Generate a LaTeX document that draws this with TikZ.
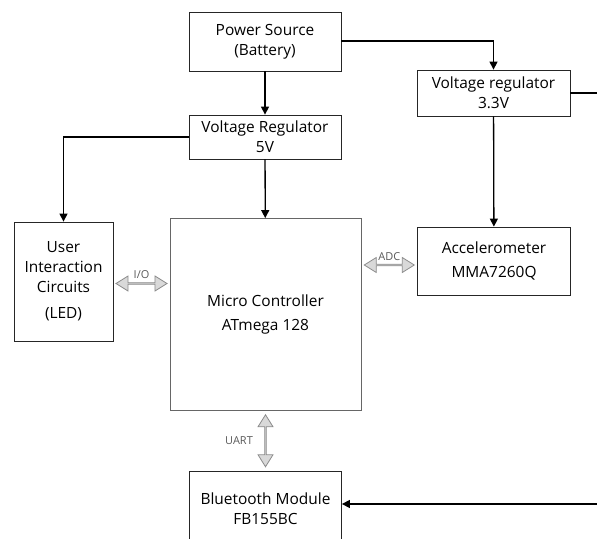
\documentclass[tikz,border=0pt]{standalone}
\usepackage{fontspec}
\setmainfont{Open Sans}
\usetikzlibrary{shapes,arrows,positioning,calc,arrows.meta}

\begin{document}
\begin{tikzpicture}[x=1bp, y=-1bp,
    block/.style={draw=black!85, line width=0.8bp, align=center, inner sep=0pt,
        font=\fontsize{15.5}{20}\selectfont},
    wire/.style={line width=1.3bp, -{Triangle[length=8bp, width=8bp]}},
    dbl/.style={double arrow, draw=black!45, fill=black!15, line width=0.8bp,
        inner sep=0pt, minimum width=15bp, double arrow head extend=3.5bp,
        double arrow tip angle=64},
    buslabel/.style={text=black!65, font=\fontsize{11}{12}\selectfont}]
    \useasboundingbox (0,0) rectangle (597,539);

    % Power supply blocks
    \node[block, minimum width=152bp, minimum height=59bp] (pwr) at (265,41.5) {Power Source\\(Battery)};
    \node[block, minimum width=152bp, minimum height=44bp] (v5) at (265,137) {Voltage Regulator\\5V};
    \node[block, minimum width=153bp, minimum height=46bp] (v33) at (493.5,93) {Voltage regulator\\3.3V};

    % Main blocks
    \node[block, minimum width=99bp, minimum height=119bp] (user) at (63.5,281.5) {User\\Interaction\\Circuits\\[6bp](LED)};
    \node[block, draw=black!60, minimum width=191bp, minimum height=192bp] (mc) at (265.5,314.5) {Micro Controller\\[4bp]ATmega 128};
    \node[block, minimum width=153bp, minimum height=68bp] (acc) at (494,261) {Accelerometer\\[4bp]MMA7260Q};
    \node[block, minimum width=152bp, minimum height=75bp] (bt) at (265.5,508.5) {Bluetooth Module\\FB155BC};

    % Edge points of the power line to the Bluetooth module
    \coordinate (e1) at (597,93);
    \coordinate (e2) at (597,504);

    % Power connections
    \draw[wire] (pwr) -- (v5);
    \draw[wire] (pwr.east |- 0,41) -| (v33.north);
    \draw[wire] (v5.west |- 0,137) -| (user.north);
    \draw[wire] (v5) -- (mc);
    \draw[wire] (v33) -- (acc);
    \draw[line width=1.3bp] (v33.east) -- (e1);
    \draw[wire] (e2) -- (bt.east |- e2);

    % Bus arrows
    \node[dbl, minimum height=51bp] (io) at ($(user.east)!0.5!(mc.west |- user.east)+(0,2)$) {};
    \node[buslabel, above=0bp of io] (iolbl) {I/O};
    \node[dbl, minimum height=50bp] (adc) at ($(mc.east |- acc.west)!0.5!(acc.west)+(0,4)$) {};
    \node[buslabel, above=0bp of adc] (adclbl) {ADC};
    \node[dbl, shape border rotate=90, minimum height=52bp] (uart) at ($(mc.south)!0.5!(bt.north)$) {};
    \node[buslabel, left=8bp of uart] (uartlbl) {UART};
\end{tikzpicture}
\end{document}
